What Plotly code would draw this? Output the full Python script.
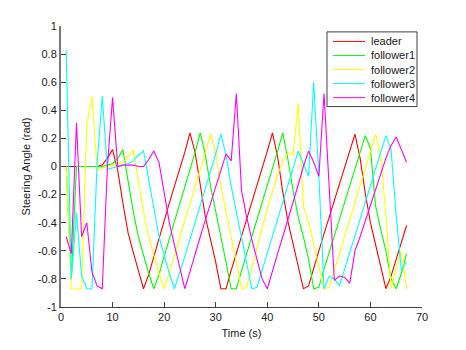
import plotly.graph_objects as go

# Sample times (s)
time_s = list(range(1, 68))

# Steering angle of each vehicle (rad), one sample per second
leader = [0, 0, 0, 0, 0, 0, 0, 0.01, 0.06, 0.12,
          -0.03, -0.26, -0.47, -0.61, -0.74, -0.87, -0.77, -0.64, -0.51, -0.38,
          -0.26, -0.14, -0.02, 0.10, 0.24, 0.10, -0.13, -0.36, -0.52, -0.68,
          -0.87, -0.87, -0.74, -0.62, -0.50, -0.37, -0.25, -0.13, -0.01, 0.11,
          0.24, 0.07, -0.18, -0.39, -0.55, -0.70, -0.87, -0.85, -0.72, -0.60,
          -0.48, -0.36, -0.24, -0.12, 0.00, 0.12, 0.23, 0.06, -0.19, -0.40,
          -0.56, -0.72, -0.87, -0.78, -0.66, -0.54, -0.42]

follower1 = [0, -0.80, 0, 0, 0, 0, 0, 0, 0.01, 0.02,
             0.06, 0.12, -0.10, -0.32, -0.50, -0.63, -0.76, -0.87, -0.77, -0.64,
             -0.51, -0.39, -0.27, -0.15, -0.03, 0.10, 0.24, 0.08, -0.14, -0.31,
             -0.50, -0.68, -0.87, -0.87, -0.74, -0.62, -0.50, -0.38, -0.26, -0.14,
             -0.02, 0.11, 0.24, 0.05, -0.17, -0.36, -0.50, -0.66, -0.87, -0.86,
             -0.73, -0.61, -0.49, -0.37, -0.25, -0.13, -0.01, 0.11, 0.22, 0.13,
             -0.28, -0.45, -0.60, -0.80, -0.87, -0.76, -0.62]

follower2 = [0, -0.87, -0.87, -0.87, 0.30, 0.50, -0.03, -0.01, 0.00, 0.01,
             0.02, 0.03, 0.07, 0.12, -0.10, -0.32, -0.50, -0.63, -0.76, -0.87,
             -0.76, -0.63, -0.51, -0.39, -0.27, -0.15, -0.03, 0.10, 0.23, 0.10,
             -0.14, -0.33, -0.50, -0.68, -0.87, -0.86, -0.72, -0.57, -0.42, -0.30,
             -0.18, -0.06, 0.04, 0.10, 0.08, 0.45, -0.28, -0.40, -0.55, -0.70,
             -0.87, -0.86, -0.74, -0.62, -0.50, -0.38, -0.26, -0.14, -0.02, 0.10,
             0.23, 0.08, -0.35, -0.87, -0.72, -0.60, -0.87]

follower3 = [0.83, -0.80, -0.33, -0.78, -0.87, -0.87, 0.02, 0.50, -0.02, -0.01,
             0.00, 0.01, 0.02, 0.04, 0.08, 0.11, -0.10, -0.30, -0.50, -0.63,
             -0.76, -0.87, -0.76, -0.64, -0.52, -0.40, -0.28, -0.16, -0.04, 0.09,
             0.23, 0.08, -0.14, -0.32, -0.50, -0.68, -0.87, -0.86, -0.74, -0.62,
             -0.50, -0.38, -0.26, -0.14, -0.02, 0.11, 0.02, -0.07, 0.60, -0.07,
             -0.87, -0.78, -0.80, -0.85, -0.73, -0.61, -0.49, -0.37, -0.25, -0.13,
             -0.01, 0.10, 0.22, 0.12, -0.35, -0.74, -0.68]

follower4 = [-0.50, -0.62, 0.31, -0.50, -0.40, -0.75, -0.85, -0.87, 0.00, 0.49,
             0.00, 0.01, 0.01, 0.01, 0.00, 0.00, 0.05, 0.11, 0.03, -0.20,
             -0.40, -0.56, -0.72, -0.87, -0.75, -0.62, -0.50, -0.38, -0.26, -0.14,
             -0.02, 0.09, 0.04, 0.52, -0.17, -0.36, -0.52, -0.66, -0.80, -0.87,
             -0.74, -0.62, -0.50, -0.38, -0.26, -0.13, 0.00, 0.11, 0.03, -0.07,
             0.52, -0.15, -0.81, -0.78, -0.79, -0.83, -0.60, -0.50, -0.39, -0.28,
             -0.17, -0.06, 0.06, 0.15, 0.21, 0.12, 0.03]

series_names = ["leader", "follower1", "follower2", "follower3", "follower4"]
series_values = [leader, follower1, follower2, follower3, follower4]
series_colors = ["#ff0000", "#00ff00", "#ffff00", "#00ffff", "#ff00ff"]

x_ticks = [0, 10, 20, 30, 40, 50, 60, 70]
y_ticks = [1, 0.8, 0.6, 0.4, 0.2, 0, -0.2, -0.4, -0.6, -0.8, -1]
y_tick_labels = ["1", "0.8", "0.6", "0.4", "0.2", "0", "-0.2", "-0.4", "-0.6", "-0.8", "-1"]

W, H = 466, 350
ML, MR, MT, MB = 61, 44, 26, 38
FONT = "Liberation Sans, Arial, sans-serif"

fig = go.Figure()
for name, vals, col in zip(series_names, series_values, series_colors):
    fig.add_trace(go.Scatter(x=time_s, y=vals, mode="lines", name=name,
                             line=dict(color=col, width=1.1), showlegend=False))

# Compact boxed legend in the upper right of the axes
plot_w = W - ML - MR
plot_h = H - MT - MB


def px_x(p):
    return (p - ML) / plot_w


def px_y(p):
    return (H - MB - p) / plot_h


box_left, box_right, box_top, box_bottom = 327, 417, 32, 108
row_step = 14.3
first_row = 41.7
shapes = [dict(type="rect", xref="paper", yref="paper",
               x0=px_x(box_left), x1=px_x(box_right),
               y0=px_y(box_bottom), y1=px_y(box_top),
               line=dict(color="#404040", width=1), fillcolor="white", layer="above")]
annotations = []
for i, (name, col) in enumerate(zip(series_names, series_colors)):
    yc = first_row + i * row_step
    shapes.append(dict(type="line", xref="paper", yref="paper",
                       x0=px_x(333), x1=px_x(365), y0=px_y(yc), y1=px_y(yc),
                       line=dict(color=col, width=1), layer="above"))
    annotations.append(dict(xref="paper", yref="paper", x=px_x(369), y=px_y(yc),
                            text=name, showarrow=False, xanchor="left", yanchor="middle",
                            font=dict(family=FONT, size=11, color="#1a1a1a")))

fig.update_layout(
    width=W, height=H,
    margin=dict(l=ML, r=MR, t=MT, b=MB, pad=0),
    paper_bgcolor="white", plot_bgcolor="white",
    font=dict(family=FONT, size=11, color="#1a1a1a"),
    shapes=shapes, annotations=annotations,
    xaxis=dict(range=[0, 70], tickmode="array", tickvals=x_ticks,
               showline=True, linecolor="#404040", linewidth=1,
               ticks="inside", ticklen=5, tickcolor="#404040",
               showgrid=False, zeroline=False,
               title=dict(text="Time (s)", standoff=7,
                          font=dict(family=FONT, size=11))),
    yaxis=dict(range=[-1, 1], tickmode="array", tickvals=y_ticks, ticktext=y_tick_labels,
               showline=True, linecolor="#7a7a7a", linewidth=2,
               ticks="inside", ticklen=5, tickcolor="#404040",
               showgrid=False, zeroline=False,
               title=dict(text="Steering Angle (rad)", standoff=5,
                          font=dict(family=FONT, size=11))),
)

fig.write_html("out.html")
